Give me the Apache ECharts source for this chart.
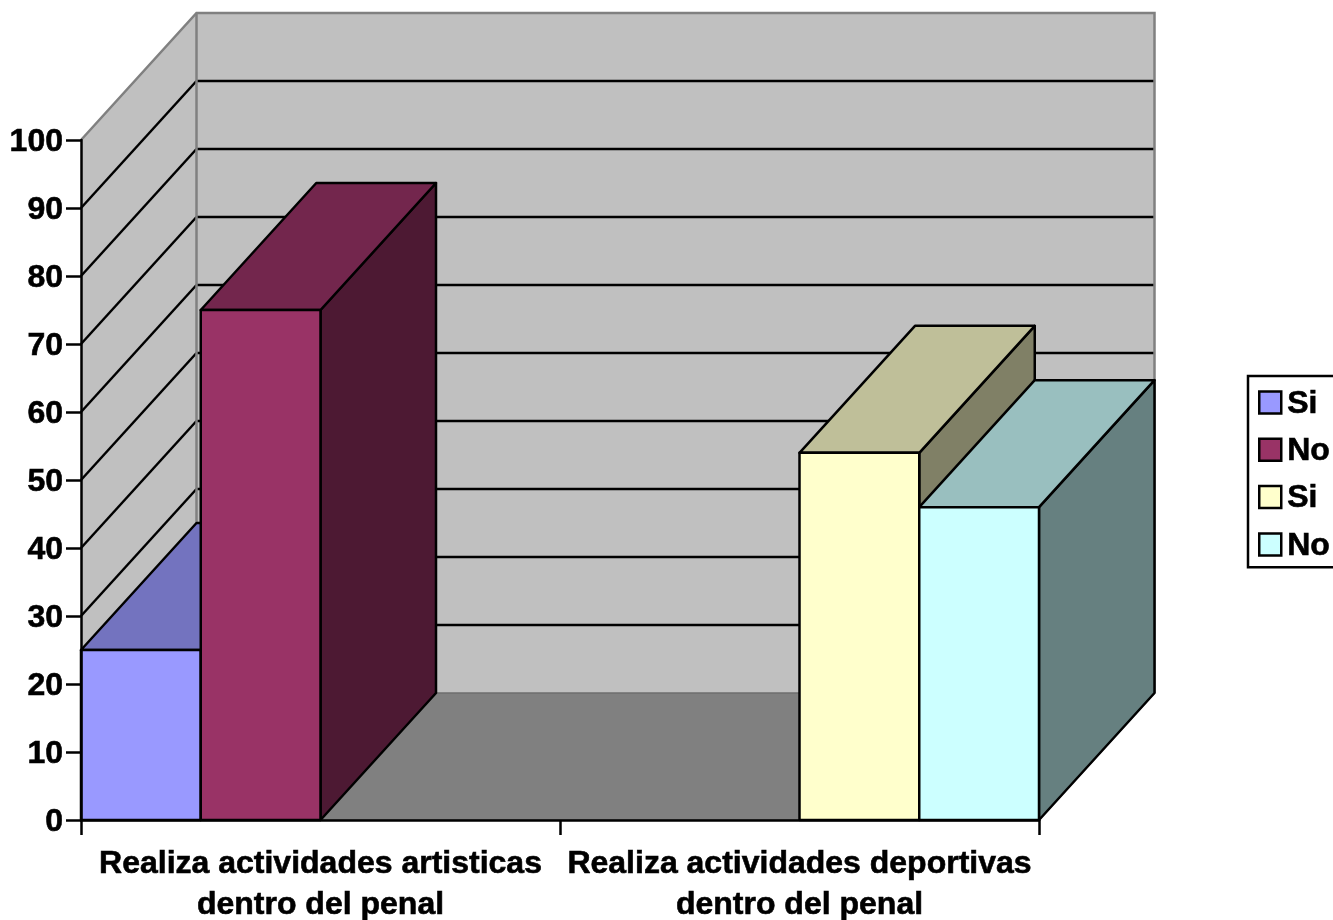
<!DOCTYPE html>
<html><head><meta charset="utf-8">
<style>html,body{margin:0;padding:0;background:#fff;overflow:hidden}#c{width:1333px;height:920px}</style>
<script src="https://cdn.jsdelivr.net/npm/echarts@6/dist/echarts.min.js"></script>
</head><body><div id="c"></div>
<script>
const categories = ['Realiza actividades artisticas\ndentro del penal', 'Realiza actividades deportivas\ndentro del penal'];
const siArtisticas = [25, null];
const noArtisticas = [75, null];
const siDeportivas = [null, 54];
const noDeportivas = [null, 46];
const seriesNames = ['Si', 'No', 'Si ', 'No '];
const frontColors = ['#9999FF', '#993366', '#FFFFCC', '#CCFFFF'];
const topColors   = ['#7373BF', '#73264D', '#BFBF99', '#99BFBF'];
const sideColors  = ['#4D4D80', '#4D1933', '#808066', '#668080'];
const gridValues = [10, 20, 30, 40, 50, 60, 70, 80, 90];
const yTickMax = 100, yTickStep = 10;

const DX = 115.5, DY = -127, SLOTS = 4;
const FONT = 'Liberation Sans';
const poly = (points, fill, stroke, lw) => ({type: 'polygon', shape: {points},
  style: {fill, stroke, lineWidth: lw, lineJoin: 'round'}});

function bounds(api) {
  const half = api.size([1, 0])[0] / 2;
  return {l: api.coord([0, 0])[0] - half, r: api.coord([1, 0])[0] + half,
          b: api.coord([0, 0])[1], t: api.coord([0, yTickMax])[1]};
}
function renderWalls(params, api) {
  const {l, r, b, t} = bounds(api);
  return {type: 'group', children: [
    poly([[l, b], [l, t], [l + DX, t + DY], [l + DX, b + DY]], '#C0C0C0', null, 0),
    poly([[l + DX, t + DY], [r + DX, t + DY], [r + DX, b + DY], [l + DX, b + DY]], '#C0C0C0', null, 0),
    poly([[l, b], [r, b], [r + DX, b + DY], [l + DX, b + DY]], '#808080', '#6E6E6E', 1.5)
  ]};
}
function renderGrid(params, api) {
  const {l, r} = bounds(api);
  const y = api.coord([0, api.value(0)])[1];
  const st = {stroke: '#000', lineWidth: 2.5};
  return {type: 'group', children: [
    {type: 'line', shape: {x1: l, y1: y, x2: l + DX, y2: y + DY}, style: st},
    {type: 'line', shape: {x1: l + DX, y1: y + DY, x2: r + DX, y2: y + DY}, style: st}
  ]};
}
function renderEdges(params, api) {
  const {l, r, b, t} = bounds(api);
  const st = {stroke: '#808080', lineWidth: 2.5, fill: null};
  return {type: 'group', children: [
    {type: 'polyline', shape: {points: [[l, t], [l + DX, t + DY], [r + DX, t + DY], [r + DX, b + DY]]}, style: st},
    {type: 'line', shape: {x1: l + DX, y1: t + DY, x2: l + DX, y2: b + DY}, style: st}
  ]};
}
const renderBar = slot => (params, api) => {
  const v = api.value(1);
  if (v == null || isNaN(v)) return;
  const band = api.size([1, 0])[0], w = band / SLOTS;
  const c = api.coord([api.value(0), v]), base = api.coord([api.value(0), 0])[1];
  const x0 = c[0] - band / 2 + slot * w, x1 = x0 + w, y = c[1];
  return {type: 'group', children: [
    poly([[x1, base], [x1, y], [x1 + DX, y + DY], [x1 + DX, base + DY]], sideColors[slot], '#000', 2.5),
    poly([[x0, y], [x1, y], [x1 + DX, y + DY], [x0 + DX, y + DY]], topColors[slot], '#000', 2.5),
    poly([[x0, base], [x1, base], [x1, y], [x0, y]], frontColors[slot], '#000', 2.5)
  ]};
};
const barSeries = [siArtisticas, noArtisticas, siDeportivas, noDeportivas].map((vals, i) => ({
  type: 'custom', name: seriesNames[i], z: 3, silent: true, clip: false,
  coordinateSystem: 'cartesian2d', encode: {x: 0, y: 1},
  itemStyle: {color: frontColors[i], borderColor: '#000', borderWidth: 2},
  data: vals.map((v, k) => [k, v === null ? NaN : v]),
  renderItem: renderBar(i)
}));
const textHeft = {fontFamily: FONT, fontWeight: 'bold', fontSize: 32, color: '#000',
  textBorderColor: '#000', textBorderWidth: 0.6};

const chart = echarts.init(document.getElementById('c'), null, {renderer: 'canvas'});
chart.setOption({
  animation: false,
  backgroundColor: '#fff',
  grid: {left: 81, top: 140, width: 958, height: 680, containLabel: false, outerBoundsMode: 'none'},
  xAxis: {type: 'category', data: categories, z: 5,
    axisLine: {show: true, lineStyle: {color: '#000', width: 2.5}},
    axisTick: {show: true, length: 15, lineStyle: {color: '#000', width: 2.5}},
    splitLine: {show: false},
    axisLabel: {interval: 0, margin: 24, lineHeight: 41, ...textHeft}},
  yAxis: {type: 'value', min: 0, max: yTickMax, interval: yTickStep, z: 5,
    axisLine: {show: true, lineStyle: {color: '#000', width: 2.5}},
    axisTick: {show: true, length: 15, lineStyle: {color: '#000', width: 2.5}},
    splitLine: {show: false},
    axisLabel: {margin: 18, verticalAlign: 'top', lineHeight: 4, ...textHeft}},
  legend: {orient: 'vertical', left: 1248, top: 376, padding: [9, 10, 5, 10], icon: 'rect',
    itemWidth: 22, itemHeight: 22, itemGap: 12,
    backgroundColor: '#fff', borderColor: '#000', borderWidth: 2.5,
    itemStyle: {borderColor: '#000', borderWidth: 2.5},
    data: seriesNames,
    formatter: n => '{t|' + n.trim() + '}',
    selectedMode: false,
    textStyle: {...textHeft, rich: {t: {...textHeft, padding: [3, 0, 0, 1], lineHeight: 29}}}},
  tooltip: {show: false},
  series: [
    {type: 'custom', name: 'walls', z: 1, silent: true, clip: false, data: [[0]], encode: {x: 0},
      renderItem: renderWalls},
    {type: 'custom', name: 'grid', z: 2, silent: true, clip: false, data: gridValues.map(v => [v]),
      encode: {y: 0}, renderItem: renderGrid},
    {type: 'custom', name: 'edges', z: 2, silent: true, clip: false, data: [[0]], encode: {x: 0},
      renderItem: renderEdges},
    ...barSeries
  ]
});
</script></body></html>
